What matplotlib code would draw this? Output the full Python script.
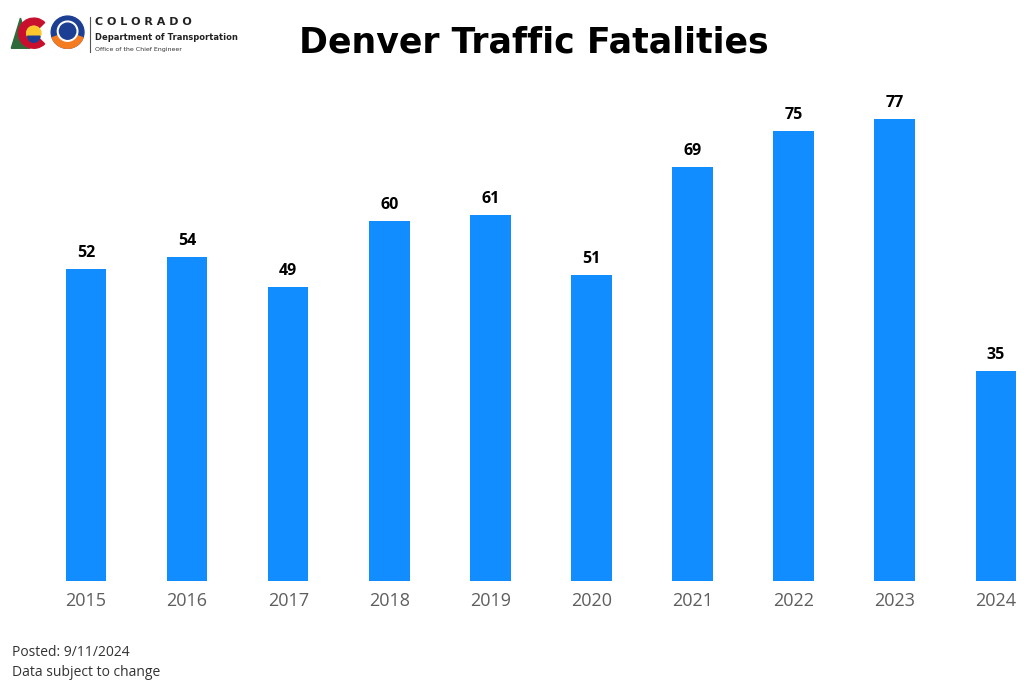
import matplotlib.pyplot as plt
from matplotlib.patches import Circle, Wedge, Polygon

years = ['2015', '2016', '2017', '2018', '2019', '2020', '2021', '2022', '2023', '2024']
fatalities = [52, 54, 49, 60, 61, 51, 69, 75, 77, 35]

fig = plt.figure(figsize=(10.24, 6.84), dpi=100)
ax = fig.add_axes([35.5 / 1024, 103 / 684, 980.5 / 1024, 480 / 684])

x = range(len(years))
bars = ax.bar(x, fatalities, width=0.4, color='#118DFF')
for b, v in zip(bars, fatalities):
    ax.annotate(str(v), (b.get_x() + b.get_width() / 2, v), xytext=(0, 6),
                textcoords='offset points', ha='center', va='bottom',
                fontsize=11.5, fontweight='bold', color='black', family='Open Sans')

ax.set_xlim(-0.5, 9.2)
ax.set_ylim(0, 80)
ax.set_xticks(list(x))
ax.set_xticklabels(years, fontsize=13, color='#605E5C', family='Open Sans')
ax.tick_params(axis='x', length=0, pad=8)
ax.set_yticks([])
for s in ax.spines.values():
    s.set_visible(False)

fig.text(0.521, 0.938, 'Denver Traffic Fatalities', ha='center', va='center',
         fontsize=25, fontweight='heavy', family='DejaVu Sans', color='black')

# logo block (simplified)
lx = fig.add_axes([0, 0.9, 0.24, 0.1])
lx.set_xlim(0, 240)
lx.set_ylim(68, 0)
lx.axis('off')
lx.add_patch(Polygon([[11, 48], [20, 18], [29, 48]], color='#2f6b3a'))
lx.add_patch(Wedge((33, 33), 15, 45, 315, width=7, color='#c8102e'))
lx.add_patch(Circle((33, 33), 7, color='#ffc72c'))
lx.add_patch(Wedge((33, 36), 6, 0, 180, color='#1c3f94'))
lx.add_patch(Circle((66, 32), 16, color='#1c3f94'))
lx.add_patch(Wedge((66, 32), 16, 20, 160, color='#f47b20'))
lx.add_patch(Circle((66, 31), 10, color='white'))
lx.add_patch(Circle((66, 31), 8, color='#1c3f94'))
lx.plot([88, 88], [17, 52], color='#555555', lw=0.8)
lx.text(93, 22, 'C O L O R A D O', fontsize=8, fontweight='bold', va='center', color='#222222')
lx.text(93, 37, 'Department of Transportation', fontsize=6, fontweight='bold', va='center', color='#222222')
lx.text(93, 49, 'Office of the Chief Engineer', fontsize=4.5, va='center', color='#333333')

fig.text(12 / 1024, 1 - 653 / 684, 'Posted: 9/11/2024', fontsize=10, va='center',
         color='#333333', family='Open Sans')
fig.text(12 / 1024, 1 - 673 / 684, 'Data subject to change', fontsize=10, va='center',
         color='#333333', family='Open Sans')

fig.savefig('out.png', dpi=100)
